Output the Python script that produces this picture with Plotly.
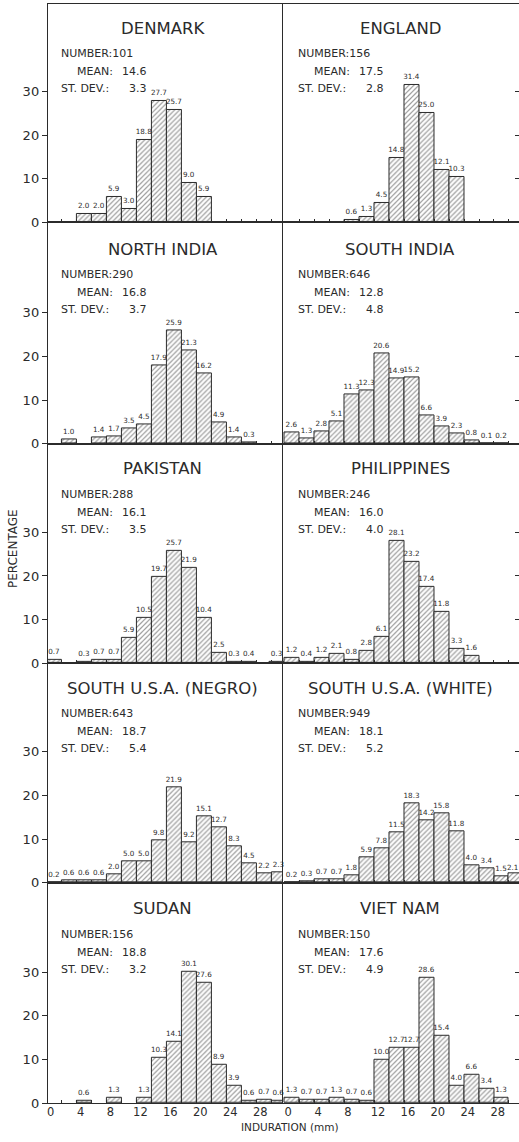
import plotly.graph_objects as go

W, H = 519, 1142
INK = "#2b2b2b"
HATCH = "#3a3a3a"
FONT = "DejaVu Sans"

# Induration bins are 2 mm wide; x values are bin centres in mm, y values are percentages.
denmark_mm = [4.5, 6.5, 8.5, 10.5, 12.5, 14.5, 16.5, 18.5, 20.5]
denmark_pct = [2.0, 2.0, 5.9, 3.0, 18.8, 27.7, 25.7, 9.0, 5.9]

england_mm = [8.5, 10.5, 12.5, 14.5, 16.5, 18.5, 20.5, 22.5]
england_pct = [0.6, 1.3, 4.5, 14.8, 31.4, 25.0, 12.1, 10.3]

north_india_mm = [2.5, 6.5, 8.5, 10.5, 12.5, 14.5, 16.5, 18.5, 20.5, 22.5, 24.5, 26.5]
north_india_pct = [1.0, 1.4, 1.7, 3.5, 4.5, 17.9, 25.9, 21.3, 16.2, 4.9, 1.4, 0.3]

south_india_mm = [0.5, 2.5, 4.5, 6.5, 8.5, 10.5, 12.5, 14.5, 16.5, 18.5, 20.5, 22.5, 24.5, 26.5, 28.5]
south_india_pct = [2.6, 1.3, 2.8, 5.1, 11.3, 12.3, 20.6, 14.9, 15.2, 6.6, 3.9, 2.3, 0.8, 0.1, 0.2]

pakistan_mm = [0.5, 4.5, 6.5, 8.5, 10.5, 12.5, 14.5, 16.5, 18.5, 20.5, 22.5, 24.5, 26.5]
pakistan_pct = [0.7, 0.3, 0.7, 0.7, 5.9, 10.5, 19.7, 25.7, 21.9, 10.4, 2.5, 0.3, 0.4]

philippines_mm = [-1.5, 0.5, 2.5, 4.5, 6.5, 8.5, 10.5, 12.5, 14.5, 16.5, 18.5, 20.5, 22.5, 24.5]
philippines_pct = [0.3, 1.2, 0.4, 1.2, 2.1, 0.8, 2.8, 6.1, 28.1, 23.2, 17.4, 11.8, 3.3, 1.6]

usa_negro_mm = [0.5, 2.5, 4.5, 6.5, 8.5, 10.5, 12.5, 14.5, 16.5, 18.5, 20.5, 22.5, 24.5, 26.5, 28.5, 30.5]
usa_negro_pct = [0.2, 0.6, 0.6, 0.6, 2.0, 5.0, 5.0, 9.8, 21.9, 9.2, 15.1, 12.7, 8.3, 4.5, 2.2, 2.3]

usa_white_mm = [0.5, 2.5, 4.5, 6.5, 8.5, 10.5, 12.5, 14.5, 16.5, 18.5, 20.5, 22.5, 24.5, 26.5, 28.5, 30.5]
usa_white_pct = [0.2, 0.3, 0.7, 0.7, 1.8, 5.9, 7.8, 11.5, 18.3, 14.2, 15.8, 11.8, 4.0, 3.4, 1.5, 2.1]

sudan_mm = [4.5, 8.5, 12.5, 14.5, 16.5, 18.5, 20.5, 22.5, 24.5, 26.5, 28.5, 30.5]
sudan_pct = [0.6, 1.3, 1.3, 10.3, 14.1, 30.1, 27.6, 8.9, 3.9, 0.6, 0.7, 0.6]

viet_nam_mm = [0.5, 2.5, 4.5, 6.5, 8.5, 10.5, 12.5, 14.5, 16.5, 18.5, 20.5, 22.5, 24.5, 26.5, 28.5]
viet_nam_pct = [1.3, 0.7, 0.7, 1.3, 0.7, 0.6, 10.0, 12.7, 12.7, 28.6, 15.4, 4.0, 6.6, 3.4, 1.3]

names = ["DENMARK", "ENGLAND", "NORTH INDIA", "SOUTH INDIA", "PAKISTAN",
         "PHILIPPINES", "SOUTH U.S.A. (NEGRO)", "SOUTH U.S.A. (WHITE)", "SUDAN", "VIET NAM"]
numbers = [101, 156, 290, 646, 288, 246, 643, 949, 156, 150]
means = [14.6, 17.5, 16.8, 12.8, 16.1, 16.0, 18.7, 18.1, 18.8, 17.6]
st_devs = [3.3, 2.8, 3.7, 4.8, 3.5, 4.0, 5.4, 5.2, 3.2, 4.9]
bins_mm = [denmark_mm, england_mm, north_india_mm, south_india_mm, pakistan_mm,
           philippines_mm, usa_negro_mm, usa_white_mm, sudan_mm, viet_nam_mm]
percents = [denmark_pct, england_pct, north_india_pct, south_india_pct, pakistan_pct,
            philippines_pct, usa_negro_pct, usa_white_pct, sudan_pct, viet_nam_pct]

x_tick_vals = [0, 4, 8, 12, 16, 20, 24, 28]
x_edge_ticks = [1.5, 3.5, 5.5, 7.5, 9.5, 11.5, 13.5, 15.5, 17.5, 19.5, 21.5, 23.5, 25.5, 27.5, 29.5]
y_tick_vals = [0, 10, 20, 30]

# panel geometry (pixels)
PX_PER_MM = 7.5
PX_PER_PCT = 4.4
row_tops = [4, 224, 447, 668, 889]
row_bottoms = [224, 447, 668, 889, 1111]
col_px = [(47, 282), (262, 519)]      # plotting domain of each column
col_zero_px = [49.7, 287.7]           # pixel of 0 mm in each column


def px_to_mm(col, px):
    return (px - col_zero_px[col]) / PX_PER_MM


fig = go.Figure()
annotations = []
bar_font = dict(family=FONT, size=7.2, color=INK)

for i, name in enumerate(names):
    row, col = divmod(i, 2)
    sfx = "" if i == 0 else str(i + 1)
    xa, ya = "x" + sfx, "y" + sfx

    mm, pct = bins_mm[i], percents[i]
    labels = []
    for x, v in zip(mm, pct):
        centre_px = col_zero_px[col] + x * PX_PER_MM
        if centre_px > W - 6:
            # bar runs off the page edge: keep its value label inside the page
            labels.append("")
            annotations.append(dict(text=f"{v:.1f}", x=1.0, y=v, xref="paper", yref=ya,
                                    showarrow=False, xanchor="right", yanchor="bottom",
                                    yshift=1, borderpad=0, font=bar_font))
        else:
            labels.append(f"{v:.1f}")

    fig.add_trace(go.Bar(
        x=mm, y=pct, width=2,
        text=labels,
        textposition="outside", constraintext="none", cliponaxis=False,
        textfont=bar_font,
        marker=dict(color="white",
                    line=dict(color=INK, width=1),
                    pattern=dict(shape="/", fgcolor=HATCH, bgcolor="white",
                                 size=3.5, solidity=0.35)),
        xaxis=xa, yaxis=ya, hoverinfo="skip", showlegend=False,
    ))

    x0, x1 = col_px[col]
    top, bot = row_tops[row], row_bottoms[row]
    fig.layout["xaxis" + sfx] = dict(
        domain=[x0 / W, x1 / W],
        range=[px_to_mm(col, x0), px_to_mm(col, x1)],
        anchor=ya, showline=True, mirror=True, linecolor=INK, linewidth=1.3,
        showgrid=False, zeroline=False,
        tickmode="array", tickvals=x_tick_vals, ticks="",
        showticklabels=(row == 4), ticklabelstandoff=-2,
        tickfont=dict(family=FONT, size=11.5, color=INK),
        minor=dict(tickmode="array", tickvals=x_edge_ticks, ticks="inside",
                   ticklen=3, tickcolor=INK, tickwidth=1, showgrid=False),
        fixedrange=True,
    )
    yax = dict(
        domain=[1 - bot / H, 1 - top / H],
        range=[0, (bot - top) / PX_PER_PCT],
        anchor=xa, showgrid=False, zeroline=False,
        tickmode="array", tickcolor=INK, fixedrange=True,
    )
    if col == 0:
        yax.update(showline=True, mirror=True, linecolor=INK, linewidth=1.3,
                   tickvals=y_tick_vals, ticks="outside", ticklen=5,
                   tickfont=dict(family=FONT, size=13, color=INK))
    else:
        yax.update(side="right", showline=False, tickvals=y_tick_vals[1:],
                   ticks="inside", ticklen=4, showticklabels=False)
    fig.layout["yaxis" + sfx] = yax

    # panel heading and summary statistics
    annotations.append(dict(text=name, x=15.0, y=44.5, xref=xa, yref=ya,
                            showarrow=False, xanchor="center", yanchor="middle",
                            font=dict(family=FONT, size=16.5, color=INK)))
    stat_font = dict(family=FONT, size=11, color=INK)
    annotations.append(dict(text=f"NUMBER:{numbers[i]}", x=1.1, y=38.7, xref=xa, yref=ya,
                            showarrow=False, xanchor="left", yanchor="middle", font=stat_font))
    annotations.append(dict(text="MEAN:", x=3.2, y=34.6, xref=xa, yref=ya,
                            showarrow=False, xanchor="left", yanchor="middle", font=stat_font))
    annotations.append(dict(text=f"{means[i]:.1f}", x=13.1, y=34.6, xref=xa, yref=ya,
                            showarrow=False, xanchor="right", yanchor="middle", font=stat_font))
    annotations.append(dict(text="ST. DEV.:", x=1.1, y=30.7, xref=xa, yref=ya,
                            showarrow=False, xanchor="left", yanchor="middle", font=stat_font))
    annotations.append(dict(text=f"{st_devs[i]:.1f}", x=13.1, y=30.7, xref=xa, yref=ya,
                            showarrow=False, xanchor="right", yanchor="middle", font=stat_font))

annotations.append(dict(text="PERCENTAGE", x=12 / W, y=1 - 552 / H, xref="paper", yref="paper",
                        showarrow=False, textangle=-90, xanchor="center", yanchor="middle",
                        font=dict(family=FONT, size=12, color=INK)))
annotations.append(dict(text="INDURATION (mm)", x=290 / W, y=1 - 1142 / H, xref="paper",
                        yref="paper", showarrow=False, xanchor="center", yanchor="bottom",
                        borderpad=0, font=dict(family=FONT, size=10.5, color=INK)))

fig.update_layout(
    width=W, height=H,
    margin=dict(l=0, r=0, t=0, b=0),
    paper_bgcolor="white", plot_bgcolor="rgba(0,0,0,0)",
    showlegend=False, bargap=0,
    annotations=annotations,
)

fig.write_html("out.html")
